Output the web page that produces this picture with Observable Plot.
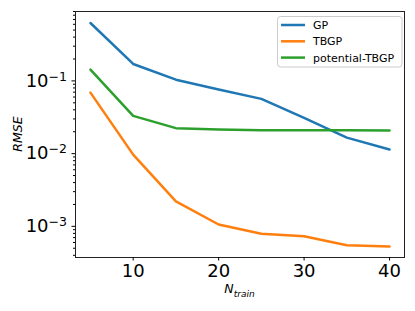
<!DOCTYPE html>
<html>
<head>
<meta charset="utf-8">
<script src="https://cdn.jsdelivr.net/npm/d3@7"></script>
<script src="https://cdn.jsdelivr.net/npm/@observablehq/plot@0.6"></script>
<style>
  html, body { margin: 0; padding: 0; background: white; }
  #chart svg { font-family: "DejaVu Sans", sans-serif; }
</style>
</head>
<body>
<div id="chart"></div>
<script>
// ---- data ----
const nTrain = [5, 10, 15, 20, 25, 30, 35, 40];
const seriesNames = ["GP", "TBGP", "potential-TBGP"];
const gp      = [0.625, 0.171, 0.104, 0.076, 0.0566, 0.031, 0.0166, 0.0114];
const tbgp    = [0.069, 0.0097, 0.0022, 0.00106, 0.00079, 0.00073, 0.00055, 0.00053];
const ptbgp   = [0.143, 0.033, 0.0224, 0.0214, 0.0209, 0.0209, 0.0209, 0.0208];
const seriesColors = ["#1f77b4", "#ff7f0e", "#2ca02c"];
const xTicks = [10, 20, 30, 40];
const yMajorTicks = [1e-3, 1e-2, 1e-1];
const xLabel = ["N", "train"];
const yLabel = "RMSE";

const seriesValues = [gp, tbgp, ptbgp];
const rows = [];
seriesNames.forEach((name, i) => {
  nTrain.forEach((n, j) => rows.push({series: name, n, rmse: seriesValues[i][j]}));
});

const yDomain = [3.73e-4, 0.9];
const yMinor = [];
for (let e = -4; e <= -1; e++) {
  for (let m = 2; m <= 9; m++) {
    const v = m * Math.pow(10, e);
    if (v >= yDomain[0] && v <= yDomain[1]) yMinor.push(v);
  }
}

const W = 415, H = 311;
const mL = 75, mR = 11, mT = 11, mB = 54;

const chart = Plot.plot({
  width: W,
  height: H,
  marginLeft: mL,
  marginRight: mR,
  marginTop: mT,
  marginBottom: mB,
  style: {color: "black", background: "white", fontFamily: "DejaVu Sans, sans-serif"},
  x: {domain: [3.25, 41.75], axis: null},
  y: {type: "log", domain: yDomain, axis: null},
  color: {domain: seriesNames, range: seriesColors},
  marks: [
    Plot.line(rows, {x: "n", y: "rmse", z: "series", stroke: "series", strokeWidth: 2.5, strokeLinejoin: "round"}),
    Plot.frame({stroke: "#222", strokeWidth: 1}),
    Plot.axisX({ticks: xTicks, tickSize: 3.5, tickPadding: 3, fontSize: 18, label: null, tickFormat: d => String(d)}),
    Plot.axisY({ticks: yMajorTicks, tickSize: 3.5, tickPadding: 5, fontSize: 18, label: null,
                tickFormat: d => String(Math.round(Math.log10(d)))}),
    Plot.axisY({ticks: yMinor, tickSize: 2, tickFormat: () => "", label: null})
  ]
});

document.getElementById("chart").appendChild(chart);
const svg = d3.select(chart);

// y tick labels as 10 with superscript exponent
svg.selectAll('g[aria-label="y-axis tick label"] text').each(function() {
  const t = d3.select(this);
  const exp = t.text();
  if (!exp) return;
  t.text(null);
  t.append("tspan").text("10");
  t.append("tspan").attr("font-size", 12.5).attr("dy", "-6").text(exp.replace("-", "\u2212"));
});

// axis titles
const xt = svg.append("text")
  .attr("x", mL + (W - mL - mR) / 2)
  .attr("y", 293)
  .attr("text-anchor", "middle")
  .attr("font-style", "italic")
  .attr("font-size", 12.5)
  .attr("fill", "black");
xt.append("tspan").text(xLabel[0]);
xt.append("tspan").attr("font-size", 9).attr("dy", 4).text(xLabel[1]);

svg.append("text")
  .attr("transform", `translate(21.5,${mT + (H - mT - mB) / 2}) rotate(-90)`)
  .attr("text-anchor", "middle")
  .attr("font-style", "italic")
  .attr("font-size", 12.5)
  .attr("fill", "black")
  .text(yLabel);

// legend
const lg = svg.append("g");
lg.append("rect")
  .attr("x", 277.5).attr("y", 16.5).attr("width", 124.5).attr("height", 50.5)
  .attr("rx", 3).attr("fill", "white").attr("fill-opacity", 0.8)
  .attr("stroke", "#ccc").attr("stroke-width", 1);
seriesNames.forEach((name, i) => {
  const yy = 25 + i * 16.3;
  lg.append("line").attr("x1", 281).attr("x2", 305).attr("y1", yy).attr("y2", yy)
    .attr("stroke", seriesColors[i]).attr("stroke-width", 2.5);
  lg.append("text").attr("x", 313).attr("y", yy).attr("dy", "0.36em")
    .attr("text-anchor", "start")
    .attr("font-size", 11).attr("fill", "black").text(name);
});
</script>
</body>
</html>
